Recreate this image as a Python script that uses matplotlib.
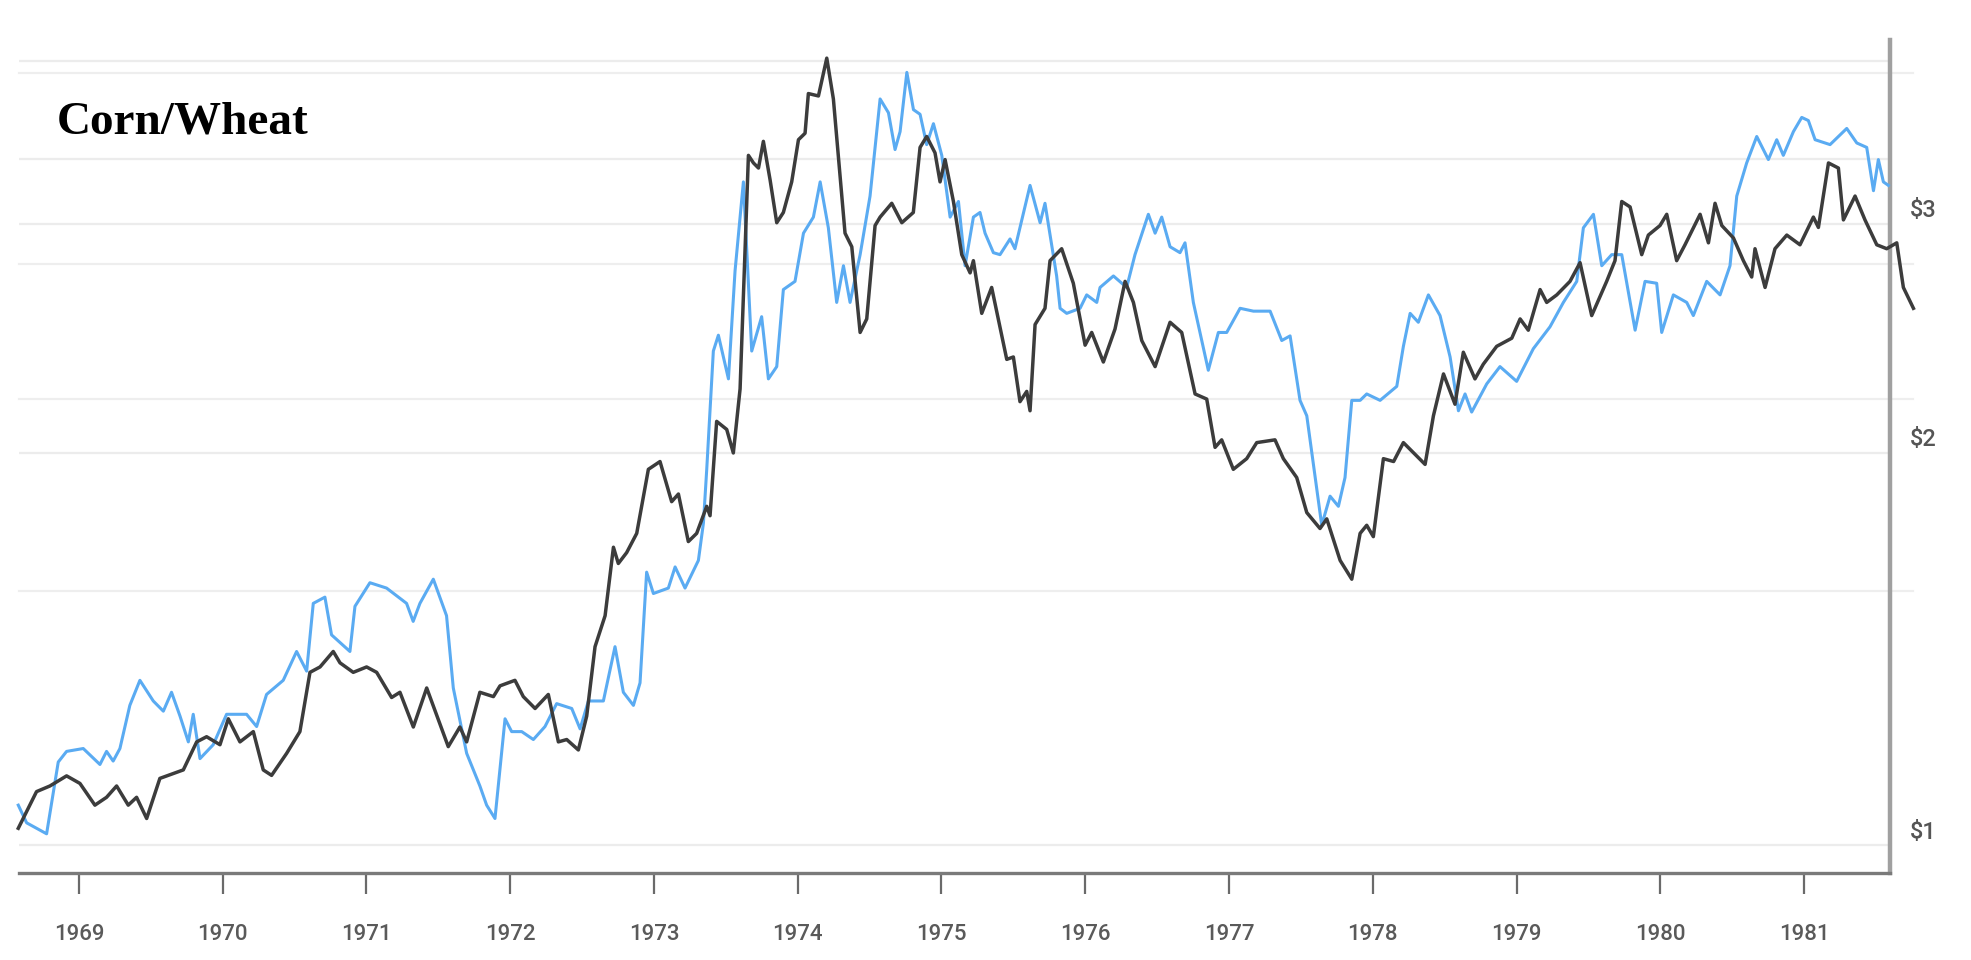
import matplotlib
matplotlib.use("Agg")
import matplotlib.pyplot as plt
from matplotlib.ticker import NullLocator
from matplotlib.transforms import offset_copy

# black line
corn_years = [
    1968.578, 1968.705, 1968.798, 1968.914, 1969.007, 1969.111, 1969.192, 1969.262,
    1969.343, 1969.401, 1969.471, 1969.563, 1969.726, 1969.819, 1969.888, 1969.981,
    1970.039, 1970.120, 1970.213, 1970.282, 1970.340, 1970.445, 1970.537, 1970.607,
    1970.677, 1970.769, 1970.816, 1970.908, 1971.001, 1971.071, 1971.175, 1971.233,
    1971.326, 1971.419, 1971.569, 1971.650, 1971.697, 1971.789, 1971.883, 1971.929,
    1972.033, 1972.091, 1972.173, 1972.265, 1972.335, 1972.393, 1972.474, 1972.532,
    1972.590, 1972.660, 1972.718, 1972.752, 1972.810, 1972.880, 1972.961, 1973.042,
    1973.123, 1973.170, 1973.239, 1973.297, 1973.367, 1973.390, 1973.436, 1973.506,
    1973.552, 1973.599, 1973.657, 1973.692, 1973.727, 1973.761, 1973.808, 1973.854,
    1973.900, 1973.958, 1974.005, 1974.051, 1974.074, 1974.144, 1974.202, 1974.248,
    1974.329, 1974.376, 1974.434, 1974.480, 1974.538, 1974.573, 1974.654, 1974.724,
    1974.804, 1974.851, 1974.897, 1974.955, 1974.990, 1975.025, 1975.083, 1975.141,
    1975.199, 1975.222, 1975.280, 1975.349, 1975.454, 1975.500, 1975.546, 1975.593,
    1975.616, 1975.651, 1975.720, 1975.755, 1975.836, 1975.917, 1975.999, 1976.045,
    1976.126, 1976.207, 1976.277, 1976.335, 1976.393, 1976.486, 1976.590, 1976.671,
    1976.764, 1976.845, 1976.903, 1976.949, 1977.030, 1977.123, 1977.193, 1977.320,
    1977.378, 1977.471, 1977.541, 1977.633, 1977.680, 1977.773, 1977.854, 1977.912,
    1977.958, 1978.004, 1978.074, 1978.145, 1978.213, 1978.364, 1978.422, 1978.492,
    1978.572, 1978.630, 1978.711, 1978.769, 1978.862, 1978.967, 1979.025, 1979.082,
    1979.164, 1979.210, 1979.280, 1979.372, 1979.442, 1979.523, 1979.627, 1979.685,
    1979.732, 1979.790, 1979.871, 1979.917, 1979.998, 1980.045, 1980.114, 1980.172,
    1980.277, 1980.335, 1980.381, 1980.428, 1980.509, 1980.578, 1980.636, 1980.659,
    1980.729, 1980.798, 1980.880, 1980.972, 1981.065, 1981.100, 1981.170, 1981.239,
    1981.274, 1981.355, 1981.424, 1981.506, 1981.575, 1981.645, 1981.691, 1981.761,
]
corn_prices = [
    1.03, 1.099, 1.11, 1.13, 1.115, 1.073, 1.088, 1.11,
    1.073, 1.088, 1.048, 1.125, 1.142, 1.20, 1.211, 1.194,
    1.25, 1.20, 1.222, 1.142, 1.131, 1.176, 1.222, 1.357,
    1.37, 1.408, 1.38, 1.357, 1.37, 1.357, 1.298, 1.31,
    1.232, 1.32, 1.19, 1.232, 1.20, 1.31, 1.30, 1.325,
    1.338, 1.30, 1.273, 1.305, 1.20, 1.205, 1.183, 1.256,
    1.42, 1.50, 1.693, 1.645, 1.677, 1.735, 1.943, 1.97,
    1.835, 1.86, 1.71, 1.735, 1.82, 1.79, 2.115, 2.085,
    2.0, 2.24, 3.385, 3.34, 3.31, 3.47, 3.24, 3.005,
    3.06, 3.23, 3.48, 3.52, 3.776, 3.76, 4.02, 3.74,
    2.95, 2.88, 2.475, 2.535, 2.99, 3.035, 3.11, 3.005,
    3.06, 3.433, 3.50, 3.40, 3.23, 3.36, 3.12, 2.84,
    2.75, 2.81, 2.56, 2.68, 2.36, 2.37, 2.19, 2.23,
    2.155, 2.51, 2.583, 2.81, 2.87, 2.70, 2.42, 2.475,
    2.349, 2.49, 2.709, 2.61, 2.44, 2.33, 2.52, 2.475,
    2.22, 2.20, 2.02, 2.047, 1.943, 1.98, 2.037, 2.047,
    1.98, 1.915, 1.80, 1.75, 1.78, 1.654, 1.60, 1.735,
    1.76, 1.725, 1.98, 1.97, 2.037, 1.96, 2.136, 2.30,
    2.18, 2.39, 2.28, 2.34, 2.415, 2.45, 2.535, 2.485,
    2.67, 2.61, 2.645, 2.709, 2.80, 2.55, 2.709, 2.81,
    3.12, 3.09, 2.84, 2.94, 2.99, 3.05, 2.81, 2.89,
    3.05, 2.90, 3.11, 2.99, 2.925, 2.81, 2.73, 2.87,
    2.68, 2.87, 2.94, 2.89, 3.035, 2.98, 3.34, 3.31,
    3.02, 3.15, 3.02, 2.89, 2.87, 2.90, 2.68, 2.583,
]

# blue line
wheat_years = [
    1968.578, 1968.636, 1968.705, 1968.775, 1968.856, 1968.914, 1969.030, 1969.146,
    1969.192, 1969.238, 1969.285, 1969.354, 1969.424, 1969.517, 1969.587, 1969.644,
    1969.703, 1969.761, 1969.795, 1969.842, 1969.934, 1970.027, 1970.166, 1970.236,
    1970.305, 1970.421, 1970.514, 1970.584, 1970.630, 1970.711, 1970.757, 1970.885,
    1970.920, 1971.024, 1971.140, 1971.279, 1971.325, 1971.372, 1971.465, 1971.557,
    1971.604, 1971.697, 1971.789, 1971.836, 1971.894, 1971.964, 1972.010, 1972.080,
    1972.161, 1972.242, 1972.323, 1972.428, 1972.486, 1972.544, 1972.648, 1972.729,
    1972.787, 1972.857, 1972.903, 1972.949, 1972.996, 1973.100, 1973.147, 1973.216,
    1973.309, 1973.344, 1973.367, 1973.413, 1973.448, 1973.518, 1973.564, 1973.622,
    1973.680, 1973.749, 1973.796, 1973.854, 1973.900, 1973.981, 1974.040, 1974.109,
    1974.156, 1974.213, 1974.271, 1974.318, 1974.364, 1974.434, 1974.503, 1974.573,
    1974.631, 1974.677, 1974.712, 1974.759, 1974.805, 1974.851, 1974.897, 1974.944,
    1975.002, 1975.060, 1975.118, 1975.164, 1975.222, 1975.268, 1975.303, 1975.361,
    1975.407, 1975.477, 1975.511, 1975.616, 1975.686, 1975.720, 1975.801, 1975.825,
    1975.871, 1975.964, 1976.010, 1976.080, 1976.103, 1976.196, 1976.288, 1976.346,
    1976.439, 1976.486, 1976.532, 1976.590, 1976.659, 1976.694, 1976.752, 1976.856,
    1976.926, 1976.984, 1977.077, 1977.170, 1977.286, 1977.367, 1977.425, 1977.494,
    1977.541, 1977.645, 1977.703, 1977.761, 1977.807, 1977.854, 1977.912, 1977.958,
    1978.051, 1978.167, 1978.213, 1978.260, 1978.317, 1978.387, 1978.468, 1978.538,
    1978.596, 1978.642, 1978.688, 1978.793, 1978.885, 1979.001, 1979.117, 1979.233,
    1979.326, 1979.419, 1979.465, 1979.535, 1979.593, 1979.662, 1979.732, 1979.825,
    1979.894, 1979.975, 1980.010, 1980.091, 1980.184, 1980.230, 1980.323, 1980.416,
    1980.485, 1980.532, 1980.601, 1980.671, 1980.752, 1980.810, 1980.856, 1980.926,
    1980.984, 1981.030, 1981.077, 1981.181, 1981.297, 1981.367, 1981.436, 1981.483,
    1981.517, 1981.552, 1981.587,
]
wheat_prices = [
    1.073, 1.04, 1.03, 1.02, 1.158, 1.18, 1.186, 1.153,
    1.18, 1.16, 1.186, 1.28, 1.338, 1.29, 1.267, 1.31,
    1.256, 1.20, 1.26, 1.165, 1.194, 1.26, 1.26, 1.233,
    1.305, 1.338, 1.408, 1.36, 1.533, 1.55, 1.45, 1.408,
    1.525, 1.59, 1.575, 1.533, 1.485, 1.533, 1.60, 1.50,
    1.32, 1.176, 1.11, 1.073, 1.048, 1.25, 1.222, 1.222,
    1.205, 1.233, 1.284, 1.273, 1.228, 1.29, 1.29, 1.42,
    1.31, 1.28, 1.332, 1.62, 1.56, 1.575, 1.635, 1.575,
    1.654, 1.767, 1.943, 2.395, 2.463, 2.28, 2.76, 3.23,
    2.395, 2.545, 2.28, 2.33, 2.67, 2.709, 2.95, 3.035,
    3.23, 2.978, 2.61, 2.785, 2.61, 2.84, 3.15, 3.74,
    3.65, 3.42, 3.53, 3.92, 3.67, 3.64, 3.45, 3.58,
    3.385, 3.035, 3.12, 2.785, 3.035, 3.06, 2.95, 2.85,
    2.84, 2.92, 2.87, 3.21, 3.005, 3.11, 2.735, 2.583,
    2.56, 2.583, 2.645, 2.61, 2.68, 2.735, 2.68, 2.84,
    3.05, 2.95, 3.035, 2.88, 2.85, 2.90, 2.61, 2.315,
    2.475, 2.475, 2.583, 2.57, 2.57, 2.44, 2.46, 2.195,
    2.136, 1.76, 1.853, 1.82, 1.915, 2.195, 2.195, 2.22,
    2.195, 2.25, 2.415, 2.56, 2.52, 2.645, 2.55, 2.37,
    2.155, 2.22, 2.15, 2.26, 2.33, 2.27, 2.405, 2.50,
    2.61, 2.709, 2.978, 3.05, 2.785, 2.84, 2.84, 2.485,
    2.709, 2.70, 2.475, 2.645, 2.61, 2.55, 2.709, 2.645,
    2.785, 3.15, 3.34, 3.50, 3.36, 3.48, 3.385, 3.53,
    3.62, 3.60, 3.48, 3.45, 3.55, 3.46, 3.433, 3.18,
    3.36, 3.23, 3.21,
]

year_ticks = list(range(1969, 1982))
price_ticks = [1, 2, 3]
price_labels = ["\\$1", "\\$2", "\\$3"]
# faint grid levels of both overlaid scales
grid_main = [1.0, 2.0, 3.0, 3.364, 4.0]
grid_other = [1.567, 2.2, 2.794, 3.917]

W, H = 1971, 960
fig = plt.figure(figsize=(W / 100, H / 100), dpi=100)
fig.patch.set_facecolor("white")
ax = fig.add_axes([19 / W, (H - 873) / H, (1890 - 19) / W, (873 - 40) / H])

ax.set_yscale("log")
ax.set_xlim(1968.583, 1981.598)
ax.set_ylim(0.9517, 4.151)

for g in grid_main:
    ax.plot([1968.583, 1981.598], [g, g], color="#ececec", lw=1.6, zorder=0)
for g in grid_other:
    ax.plot([1968.583, 1981.76], [g, g], color="#eeeeee", lw=1.6,
            zorder=0, clip_on=False)

ax.plot(wheat_years, wheat_prices, color="#5aabf2", lw=2.2,
        clip_on=False, zorder=3)
ax.plot(corn_years, corn_prices, color="#3c3c3c", lw=2.5,
        clip_on=False, zorder=4)

for s in ("top", "left"):
    ax.spines[s].set_visible(False)
ax.spines["bottom"].set_color("#7a7a7a")
ax.spines["bottom"].set_linewidth(2.4)
ax.spines["right"].set_color("#a0a0a0")
ax.spines["right"].set_linewidth(3.2)

ax.yaxis.set_major_locator(NullLocator())
ax.yaxis.set_minor_locator(NullLocator())

ax.set_xticks(year_ticks)
ax.set_xticklabels([str(y) for y in year_ticks])
ax.tick_params(axis="x", direction="out", length=15, width=1.6,
               color="#6a6a6a", pad=22, labelsize=16, labelcolor="#5a5a5a")
for lab in ax.get_xticklabels():
    lab.set_fontfamily("Roboto")
    lab.set_fontweight("medium")

lab_tr = offset_copy(ax.transData, fig=fig, x=20, y=13, units="dots")
for p, t in zip(price_ticks, price_labels):
    ax.text(1981.598, p, t, transform=lab_tr, ha="left", va="center",
            fontsize=17, color="#555555", family="Roboto",
            fontweight="medium", clip_on=False)

fig.text(57 / W, 1 - 123 / H, "Corn/Wheat", ha="left", va="center",
         fontsize=34, fontweight="bold", family="Liberation Serif",
         color="black")

fig.savefig("out.png", dpi=100, facecolor="white")
